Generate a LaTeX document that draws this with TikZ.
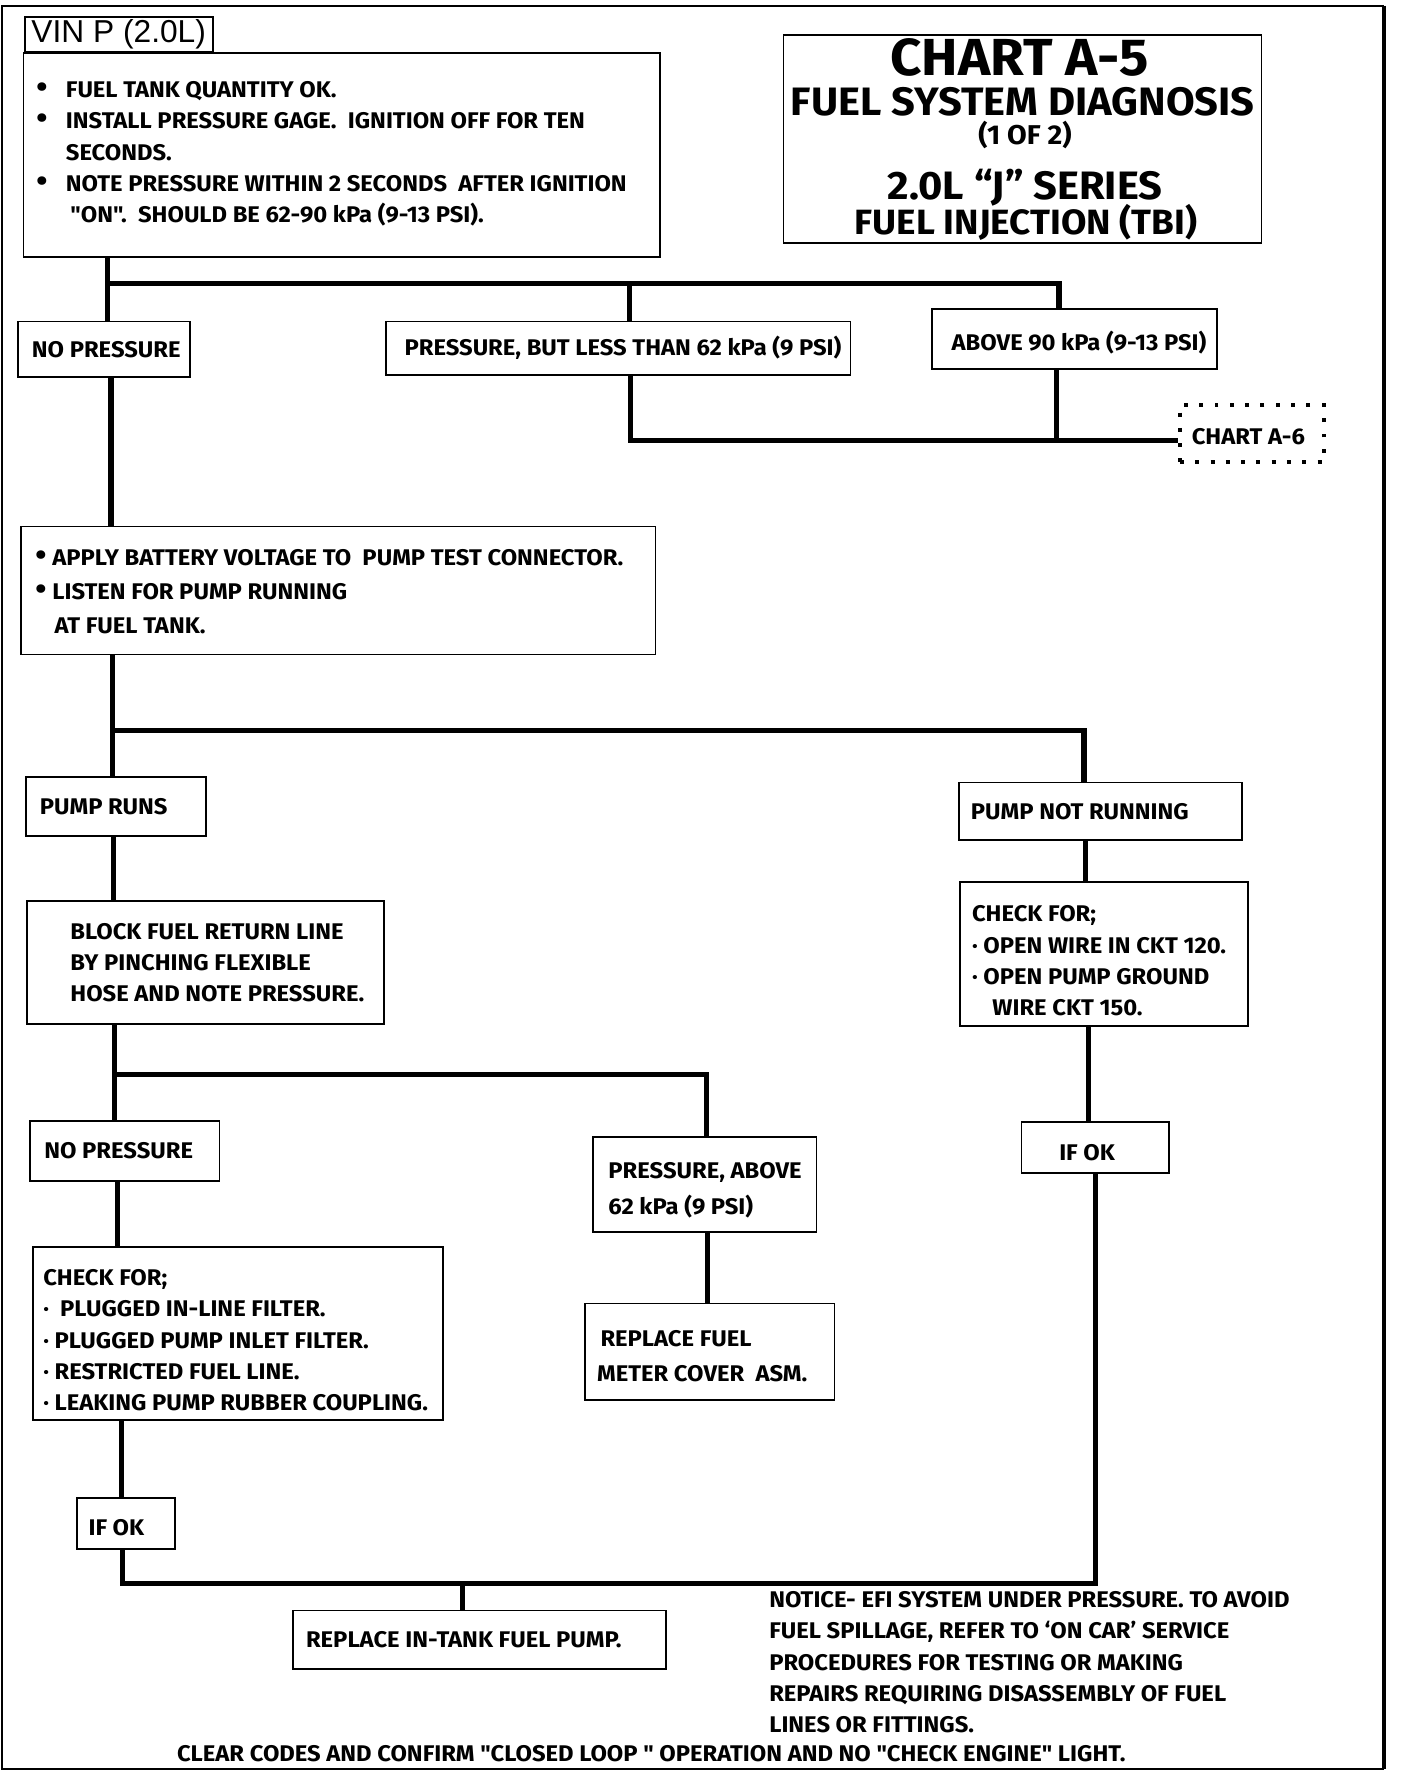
\documentclass[tikz,border=0pt]{standalone}
\usepackage{fontspec}
\newfontfamily\cf{Fira Sans}[FakeStretch=1.05]
\newfontfamily\vf{Liberation Sans}
\newcommand\bul{{\fontsize{27}{0}\selectfont •}}
\begin{document}
\begin{tikzpicture}[x=1pt,y=-1pt,
  box/.style={draw, line width=1.6pt, inner sep=0pt, anchor=north west},
  txt/.style={inner sep=0pt, anchor=west, align=left, font=\cf\bfseries\fontsize{20}{27.5}\selectfont},
  ttl/.style={inner sep=0pt, anchor=base},
  conn/.style={line width=4.5pt}]
\useasboundingbox (0,0) rectangle (1243,1568);
% frame
\draw[line width=2pt] (1222,5) -- (2,5) -- (2,1562) -- (1222,1562);
\draw[line width=3.5pt] (1222,5) -- (1222,1562);

% boxes
\node[box, minimum width=166pt, minimum height=31pt, font=\vf\fontsize{28}{30}\selectfont] (vin) at (21,14) {VIN P (2.0L)};
\node[box, minimum width=562pt, minimum height=180pt] (b1) at (20,46) {};
\node[box, minimum width=422pt, minimum height=184pt] (tt) at (691,30) {};
\node[box, minimum width=152pt, minimum height=49pt] (np1) at (15,283) {};
\node[box, minimum width=410pt, minimum height=47pt] (pb) at (340,283) {};
\node[box, minimum width=252pt, minimum height=53pt] (ab) at (822,272) {};
\node[box, minimum width=127pt, minimum height=50pt, line width=3.5pt, dash pattern=on 3.5pt off 10pt] (a6) at (1040,356) {};
\node[box, minimum width=560pt, minimum height=113pt] (ap) at (18,464) {};
\node[box, minimum width=159pt, minimum height=52pt] (pr) at (22,685) {};
\node[box, minimum width=250pt, minimum height=51pt] (pnr) at (846,690) {};
\node[box, minimum width=315pt, minimum height=108pt] (blk) at (23,795) {};
\node[box, minimum width=254pt, minimum height=127pt] (chr) at (847,778) {};
\node[box, minimum width=167pt, minimum height=53pt] (np2) at (26,989) {};
\node[box, minimum width=197pt, minimum height=84pt] (pa) at (523,1003) {};
\node[box, minimum width=130pt, minimum height=45pt] (okr) at (901,990) {};
\node[box, minimum width=362pt, minimum height=153pt] (chl) at (28,1100) {};
\node[box, minimum width=220pt, minimum height=85pt] (rf) at (516,1150) {};
\node[box, minimum width=87pt, minimum height=45pt] (okl) at (67,1322) {};
\node[box, minimum width=329pt, minimum height=52pt] (rit) at (258,1421) {};

% texts
\node[txt] (b1t) at ([xshift=12pt,yshift=1pt]b1.west) {\makebox[26pt][l]{\bul}FUEL TANK QUANTITY OK.\\
\makebox[26pt][l]{\bul}INSTALL PRESSURE GAGE.\ \ IGNITION OFF FOR TEN\\
\hspace*{26pt}SECONDS.\\
\makebox[26pt][l]{\bul}NOTE PRESSURE WITHIN 2 SECONDS\ \ AFTER IGNITION\\
\hspace*{30pt}"ON".\ \ SHOULD BE 62-90 kPa (9-13 PSI).};
\node[ttl, font=\cf\bfseries\fontsize{46}{46}\selectfont] (t1) at (900,67) {CHART A-5};
\node[ttl, font=\cf\bfseries\fontsize{35}{35}\selectfont] (t2) at (903,102) {FUEL SYSTEM DIAGNOSIS};
\node[ttl, font=\cf\bfseries\fontsize{24}{24}\selectfont] (t3) at (905,128) {(1 OF 2)};
\node[ttl, font=\cf\bfseries\fontsize{35}{35}\selectfont] (t4) at (905,176) {2.0L “J” SERIES};
\node[ttl, font=\cf\bfseries\fontsize{31}{31}\selectfont] (t5) at (906,207) {FUEL INJECTION (TBI)};
\node[txt] (np1t) at ([xshift=13pt]np1.west) {NO PRESSURE};
\node[txt] (pbt) at ([xshift=17pt]pb.west) {PRESSURE, BUT\ LESS THAN 62 kPa (9 PSI)};
\node[txt] (abt) at ([xshift=18pt,yshift=-3pt]ab.west) {ABOVE 90 kPa (9-13 PSI)};
\node[txt] (a6t) at ([xshift=12pt,yshift=-3pt]a6.west) {CHART\ A-6};
\node[txt] (apt) at ([xshift=13pt,yshift=-1pt]ap.west) {\makebox[15pt][l]{\bul}APPLY BATTERY VOLTAGE TO\ \ PUMP TEST CONNECTOR.\\[2.5pt]
\makebox[15pt][l]{\bul}LISTEN FOR PUMP RUNNING\\[2.5pt]
\hspace*{17pt}AT FUEL TANK.};
\node[txt] (prt) at ([xshift=13pt]pr.west) {PUMP RUNS};
\node[txt] (pnrt) at ([xshift=11pt]pnr.west) {PUMP NOT RUNNING};
\node[txt] (blkt) at ([xshift=39pt]blk.west) {BLOCK FUEL RETURN LINE\\
BY PINCHING FLEXIBLE\\
HOSE AND NOTE PRESSURE.};
\node[txt] (chrt) at ([xshift=11pt,yshift=-6pt]chr.west) {CHECK FOR;\\
· OPEN WIRE IN CKT 120.\\
· OPEN PUMP GROUND\\
\hspace*{18pt}WIRE CKT 150.};
\node[txt] (np2t) at ([xshift=13pt]np2.west) {NO PRESSURE};
\node[txt] (pat) at ([xshift=14pt,yshift=-5pt]pa.west) {PRESSURE, ABOVE\\[5pt]
62 kPa (9 PSI)};
\node[txt, anchor=base west] (okrt) at (935,1025) {IF OK};
\node[txt] (chlt) at ([xshift=10pt,yshift=-6pt]chl.west) {CHECK FOR;\\
·\ \ PLUGGED IN-LINE FILTER.\\
· PLUGGED PUMP INLET FILTER.\\
· RESTRICTED FUEL LINE.\\
· LEAKING PUMP RUBBER COUPLING.};
\node[txt] (rft) at ([xshift=11pt,yshift=-4pt]rf.west) {\hspace*{3pt}REPLACE FUEL\\[3pt]
METER COVER\ \ ASM.};
\node[txt] (oklt) at ([xshift=11pt,yshift=-3pt]okl.west) {IF OK};
\node[txt] (ritt) at ([xshift=12pt]rit.west) {REPLACE IN-TANK FUEL PUMP.};
\node[txt, anchor=north west] (note) at (679,1405) {NOTICE- EFI SYSTEM UNDER PRESSURE. TO AVOID\\
FUEL SPILLAGE, REFER TO ‘ON CAR’ SERVICE\\
PROCEDURES FOR TESTING OR MAKING\\
REPAIRS REQUIRING DISASSEMBLY OF FUEL\\
LINES OR FITTINGS.};
\node[txt, anchor=base] (clr) at (575,1555) {CLEAR CODES AND CONFIRM "CLOSED LOOP " OPERATION AND NO "CHECK ENGINE" LIGHT.};

% connectors
\coordinate (c1) at (95,250);
\coordinate (c2) at (556,250);
\coordinate (c3) at (935,250);
\draw[conn] (c1 |- b1.south) -- (c1 |- np1.north);
\draw[conn] (c1) -- (c3) -- (c3 |- ab.north);
\draw[conn] (c2) -- (c2 |- pb.north);
\coordinate (c4) at (557,389);
\coordinate (c5) at (933,389);
\draw[conn] (c4 |- pb.south) -- (c4) -- (c4 -| a6.west);
\draw[conn] (c5 |- ab.south) -- (c5);
\coordinate (c6) at (98,400);
\draw[conn] (c6 |- np1.south) -- (c6 |- ap.north);
\coordinate (c7) at (99,645);
\coordinate (c8) at (957,645);
\draw[conn] (c7 |- ap.south) -- (c7 |- pr.north);
\draw[conn] (c7) -- (c8) -- (c8 |- pnr.north);
\coordinate (c9) at (100,760);
\draw[conn] (c9 |- pr.south) -- (c9 |- blk.north);
\coordinate (c10) at (101,949);
\coordinate (c11) at (624,949);
\draw[conn] (c10 |- blk.south) -- (c10 |- np2.north);
\draw[conn] (c10) -- (c11) -- (c11 |- pa.north);
\coordinate (c12) at (625,1100);
\draw[conn] (c12 |- pa.south) -- (c12 |- rf.north);
\coordinate (c13) at (104,1070);
\draw[conn] (c13 |- np2.south) -- (c13 |- chl.north);
\coordinate (c14) at (107,1290);
\draw[conn] (c14 |- chl.south) -- (c14 |- okl.north);
\coordinate (c15) at (108,1398);
\coordinate (c16) at (967,1398);
\coordinate (c17) at (408,1398);
\draw[conn] (c15 |- okl.south) -- (c15) -- (c16) -- (c16 |- okr.south);
\draw[conn] (c17) -- (c17 |- rit.north);
\coordinate (c18) at (958,760);
\draw[conn] (c18 |- pnr.south) -- (c18 |- chr.north);
\coordinate (c19) at (961,950);
\draw[conn] (c19 |- chr.south) -- (c19 |- okr.north);
\end{tikzpicture}
\end{document}
